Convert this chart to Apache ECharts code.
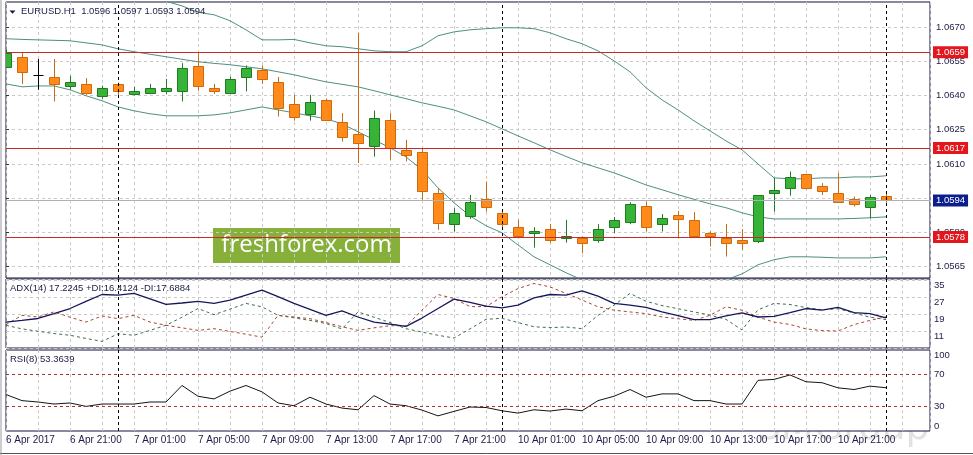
<!DOCTYPE html>
<html><head><meta charset="utf-8">
<script src="https://cdn.jsdelivr.net/npm/echarts@6/dist/echarts.min.js"></script>
<style>html,body{margin:0;padding:0;background:#fff}#c{width:973px;height:455px}</style>
</head><body><div id="c"></div>
<script>
// ---- data (H1 candles, index 0 = 6 Apr 17:00) ----
const timeLabels = ['6 Apr 2017','6 Apr 21:00','7 Apr 01:00','7 Apr 05:00','7 Apr 09:00','7 Apr 13:00','7 Apr 17:00','7 Apr 21:00','10 Apr 01:00','10 Apr 05:00','10 Apr 09:00','10 Apr 13:00','10 Apr 17:00','10 Apr 21:00'];
const opens  = [1.06527,1.06568,1.06491,1.06481,1.06441,1.06451,1.06400,1.06451,1.06407,1.06411,1.06419,1.06422,1.06530,1.06432,1.06411,1.06481,1.06513,1.06460,1.06364,1.06320,1.06381,1.06283,1.06232,1.06179,1.06293,1.06162,1.06152,1.05972,1.05836,1.05874,1.05946,1.05884,1.05823,1.05796,1.05814,1.05775,1.05775,1.05767,1.05823,1.05845,1.05916,1.05836,1.05877,1.05855,1.05796,1.05777,1.05767,1.05764,1.05972,1.05994,1.06057,1.06004,1.05972,1.05946,1.05913,1.05960];
const highs  = [1.06600,1.06586,1.06560,1.06560,1.06486,1.06476,1.06443,1.06457,1.06437,1.06451,1.06473,1.06542,1.06586,1.06451,1.06483,1.06532,1.06532,1.06481,1.06403,1.06403,1.06385,1.06323,1.06674,1.06334,1.06323,1.06206,1.06169,1.05994,1.05906,1.05964,1.06023,1.05889,1.05855,1.05823,1.05837,1.05855,1.05782,1.05836,1.05867,1.05932,1.05935,1.05880,1.05894,1.05889,1.05804,1.05837,1.05814,1.05964,1.06038,1.06067,1.06057,1.06016,1.06060,1.05957,1.05964,1.05970];
const lows   = [1.06520,1.06451,1.06425,1.06374,1.06425,1.06403,1.06386,1.06396,1.06400,1.06406,1.06407,1.06374,1.06421,1.06407,1.06407,1.06418,1.06451,1.06308,1.06290,1.06290,1.06290,1.06198,1.06104,1.06132,1.06118,1.06111,1.05943,1.05811,1.05804,1.05859,1.05891,1.05823,1.05775,1.05733,1.05755,1.05755,1.05709,1.05755,1.05796,1.05836,1.05804,1.05804,1.05775,1.05775,1.05738,1.05694,1.05723,1.05753,1.05891,1.05961,1.05989,1.05964,1.05932,1.05913,1.05862,1.05930];
const closes = [1.06586,1.06501,1.06491,1.06450,1.06460,1.06411,1.06435,1.06418,1.06422,1.06434,1.06434,1.06520,1.06443,1.06418,1.06473,1.06520,1.06472,1.06347,1.06308,1.06371,1.06293,1.06220,1.06191,1.06301,1.06172,1.06140,1.05983,1.05843,1.05884,1.05932,1.05913,1.05836,1.05782,1.05807,1.05767,1.05783,1.05755,1.05814,1.05855,1.05925,1.05823,1.05862,1.05859,1.05782,1.05782,1.05755,1.05755,1.05964,1.05986,1.06042,1.05994,1.05983,1.05932,1.05924,1.05954,1.05940];
const bbUpper  = [1.0686,1.0687,1.0688,1.0689,1.0689,1.0689,1.0689,1.0688,1.0687,1.0685,1.06813,1.06793,1.06765,1.06754,1.06728,1.06688,1.06644,1.06644,1.06646,1.06631,1.06618,1.06614,1.06605,1.06596,1.06592,1.06592,1.06618,1.06662,1.06679,1.06688,1.06693,1.06697,1.06697,1.06693,1.06675,1.06649,1.06627,1.06596,1.06552,1.06504,1.06434,1.06381,1.06337,1.06289,1.06245,1.06201,1.06162,1.06100,1.06039,1.06035,1.06035,1.06039,1.06039,1.06043,1.06043,1.06048];
const bbMiddle = [1.06649,1.06646,1.06644,1.06642,1.06640,1.06631,1.06622,1.06605,1.06592,1.06581,1.06570,1.06559,1.06548,1.06541,1.06535,1.06526,1.06517,1.06504,1.06491,1.06475,1.06460,1.06449,1.06438,1.06421,1.06403,1.06386,1.06368,1.06353,1.06337,1.06311,1.06285,1.06254,1.06223,1.06193,1.06162,1.06133,1.06105,1.06083,1.06061,1.06035,1.06008,1.05987,1.05965,1.05945,1.05925,1.05908,1.05886,1.05868,1.05859,1.05859,1.05859,1.05859,1.05859,1.05861,1.05864,1.05868];
const bbLower  = [1.06451,1.06438,1.06442,1.06442,1.06425,1.06399,1.06377,1.06350,1.06333,1.06320,1.06311,1.06311,1.06311,1.06315,1.06324,1.06337,1.06350,1.06337,1.06324,1.06311,1.06298,1.06276,1.06241,1.06206,1.06171,1.06131,1.06074,1.05995,1.05930,1.05872,1.05829,1.05798,1.05745,1.05693,1.05658,1.05623,1.05592,1.05575,1.05562,1.05553,1.05548,1.05548,1.05553,1.05562,1.05575,1.05592,1.05618,1.05658,1.05680,1.05693,1.05693,1.05691,1.05688,1.05688,1.05688,1.05693];
const adx     = [15.2,16.0,16.9,19.2,21.6,25.0,28.2,27.9,28.7,26.1,23.5,24.2,25.0,24.0,25.5,27.9,30.3,27.2,24.0,21.2,18.4,20.5,17.6,15.2,14.2,13.2,17.1,21.6,26.0,24.5,22.7,21.9,23.2,26.6,28.2,27.9,29.9,27.4,24.0,23.2,22.1,20.0,18.2,16.4,16.4,18.1,19.5,17.6,17.9,19.7,21.6,20.8,22.1,19.7,19.2,17.2];
const plusDI  = [13.7,12.0,10.9,9.8,9.0,7.5,6.1,9.7,9.0,11.3,13.7,17.5,21.6,18.7,21.3,24.0,22.4,18.4,17.2,16.0,14.5,12.0,20.0,17.5,15.0,12.1,10.5,9.0,7.7,12.0,16.5,17.0,15.0,13.0,12.6,12.9,12.1,18.4,23.2,28.7,25.0,23.0,21.5,20.0,18.5,16.5,11.5,21.0,24.0,23.5,22.0,21.0,21.5,19.5,17.5,16.4];
const minusDI = [14.0,18.4,17.6,20.0,17.5,15.2,18.1,16.8,18.4,15.2,13.7,12.5,11.3,12.1,10.8,9.5,8.1,18.4,17.6,16.8,15.0,13.0,11.3,12.5,13.5,13.4,20.8,28.2,26.3,22.5,22.5,27.1,31.0,33.4,31.8,28.7,25.6,22.4,20.8,20.0,19.2,17.6,16.8,16.0,18.4,22.4,20.8,17.6,15.2,14.1,12.0,11.2,11.0,14.0,16.0,17.7];
const rsi     = [45.0,37.5,35.8,33.3,34.6,30.4,33.3,33.3,33.3,35.8,35.8,56.2,42.9,39.6,49.2,56.2,48.3,34.6,31.2,41.7,33.3,28.3,26.2,43.7,33.3,31.2,25.8,18.7,24.2,29.6,29.0,25.0,22.1,26.2,24.6,27.1,25.0,37.5,42.9,51.2,41.7,45.8,45.8,37.5,37.5,33.3,33.3,62.5,63.7,69.2,60.8,59.6,53.3,51.2,55.4,53.4];
const priceTicks = [1.0565,1.0580,1.0595,1.0610,1.0625,1.0640,1.0655,1.0670];
const levels = [1.0659,1.0617,1.0578];
const bidPrice = 1.0594;
const daySeparators = [7,31,55];
const rsiTicks = [0,30,70,100];
const rsiLevels = [30,70];
const headerMain = 'EURUSD.H1  1.0596 1.0597 1.0593 1.0594';
const headerAdx = 'ADX(14) 17.2245 +DI:16.4124 -DI:17.6884';
const headerRsi = 'RSI(8) 53.3639';

// ---- styling ----
const FONT = 'Liberation Sans';
const TXT = '#1c1c44';
const GRIDC = '#c9c9c9';
const BORDER = '#14143c';
const BULL = '#37b437', BULL_EDGE = '#1f7a22';
const BEAR = '#ff8a1a', BEAR_EDGE = '#cc6a10';
const BAND = '#4f8f80';

const candleData = opens.map((o, i) => [i, o, closes[i], lows[i], highs[i]]);
const idx = a => a.map((v, i) => [i, v]);

function renderCandle(params, api) {
  const i = api.value(0), o = api.value(1), c = api.value(2), l = api.value(3), h = api.value(4);
  const pO = api.coord([i, o]), pC = api.coord([i, c]), pL = api.coord([i, l]), pH = api.coord([i, h]);
  const w = Math.round(api.size([1, 0])[0] * 0.62);
  const x = Math.round(pO[0]) + 0.5;
  let fill, stroke;
  if (c > o) { fill = BULL; stroke = BULL_EDGE; }
  else if (c < o) { fill = BEAR; stroke = BEAR_EDGE; }
  else { fill = '#000'; stroke = '#000'; }
  const top = Math.round(Math.min(pO[1], pC[1])) + 0.5, bot = Math.round(Math.max(pO[1], pC[1])) + 0.5;
  const ch = [{ type: 'line', shape: { x1: x, y1: pH[1], x2: x, y2: pL[1] }, style: { stroke: stroke, lineWidth: 1 } }];
  if (c === o) ch.push({ type: 'line', shape: { x1: x - w / 2, y1: top, x2: x + w / 2, y2: top }, style: { stroke: '#000', lineWidth: 1 } });
  else ch.push({ type: 'rect', shape: { x: x - w / 2, y: top, width: w, height: Math.max(bot - top, 1) }, style: { fill: fill, stroke: stroke, lineWidth: 1 } });
  return { type: 'group', children: ch };
}

const grids = [
  { left: 6, right: 43, top: 2, height: 276 },
  { left: 6, right: 43, top: 279, height: 69 },
  { left: 6, right: 43, top: 350, height: 81 }
].map(g => Object.assign(g, { show: true, borderColor: BORDER, borderWidth: 1, backgroundColor: '#fff', containLabel: false, outerBoundsMode: 'none' }));

const xAxes = [0, 1, 2].map(k => ({
  type: 'value', gridIndex: k, min: 0, max: 57.75, interval: 2,
  axisLine: { show: false }, axisTick: { show: false },
  splitLine: { show: true, lineStyle: { color: GRIDC, type: [3, 3], width: 1 } },
  axisLabel: {
    show: k === 2, align: 'left', margin: 4, color: TXT, fontFamily: FONT, fontSize: 10, showMinLabel: true, showMaxLabel: false,
    formatter: v => (v % 4 === 0 && v / 4 < timeLabels.length) ? timeLabels[v / 4] : ''
  }
}));

const yAxes = [
  { type: 'value', gridIndex: 0, position: 'right', min: 1.0560, max: 1.0681,
    axisLine: { show: false },
    axisTick: { show: true, length: 3, customValues: priceTicks, lineStyle: { color: '#333' } },
    axisLabel: { customValues: priceTicks, margin: 6, color: TXT, fontFamily: FONT, fontSize: 9.5, formatter: v => v.toFixed(4) },
    splitLine: { show: true, lineStyle: { color: GRIDC, type: [3, 3] } } },
  { type: 'value', gridIndex: 1, position: 'right', min: 3, max: 35.5, interval: 8,
    axisLine: { show: false }, axisTick: { show: false },
    axisLabel: { margin: 4, color: TXT, fontFamily: FONT, fontSize: 9.5, verticalAlign: 'top', showMinLabel: false, showMaxLabel: false, formatter: v => String(v) },
    splitLine: { show: true, lineStyle: { color: GRIDC, type: [3, 3] } } },
  { type: 'value', gridIndex: 2, position: 'right', min: 0, max: 100,
    axisLine: { show: false }, axisTick: { show: false },
    axisLabel: { customValues: rsiTicks, margin: 4, color: TXT, fontFamily: FONT, fontSize: 9.5, verticalAlignMinLabel: 'bottom', verticalAlignMaxLabel: 'top', formatter: v => String(v) },
    splitLine: { show: false } }
];

const sepLine = k => ({
  symbol: ['none', 'none'], silent: true, animation: false, label: { show: false },
  lineStyle: { color: '#000', type: [3, 3], width: 1 },
  data: daySeparators.map(v => ({ xAxis: v }))
});

const levelLabel = (bg) => ({ show: true, position: 'end', distance: 3, backgroundColor: bg, color: '#fff', padding: [1, 3, 0, 3], fontFamily: FONT, fontSize: 9.5, lineHeight: 11, formatter: p => Number(p.value).toFixed(4) });

const levelMarks = {
  symbol: ['none', 'none'], silent: true, animation: false, precision: 6,
  data: [{ yAxis: bidPrice, lineStyle: { color: '#b0b0b6', type: 'solid', width: 1 }, label: levelLabel('#0c1e8c') }]
    .concat(levels.map(v => ({ yAxis: v, lineStyle: { color: '#c62a2a', type: 'solid', width: 1 }, label: levelLabel('#e3161c') })))
};

const series = [
  { type: 'line', xAxisIndex: 0, yAxisIndex: 0, data: idx(bbUpper), showSymbol: false, lineStyle: { color: BAND, width: 1 }, z: 2, markLine: levelMarks },
  { type: 'line', xAxisIndex: 0, yAxisIndex: 0, data: idx(bbMiddle), showSymbol: false, lineStyle: { color: BAND, width: 1 }, z: 2 },
  { type: 'line', xAxisIndex: 0, yAxisIndex: 0, data: idx(bbLower), showSymbol: false, lineStyle: { color: BAND, width: 1 }, z: 2 },
  { type: 'custom', xAxisIndex: 0, yAxisIndex: 0, data: candleData, renderItem: renderCandle, clip: true, z: 3,
    encode: { x: 0, y: [1, 2, 3, 4] }, markLine: sepLine(0) },
  { type: 'line', xAxisIndex: 1, yAxisIndex: 1, data: idx(plusDI), showSymbol: false, lineStyle: { color: '#3f6f46', width: 1, type: [3, 3] }, z: 2 },
  { type: 'line', xAxisIndex: 1, yAxisIndex: 1, data: idx(minusDI), showSymbol: false, lineStyle: { color: '#a8462e', width: 1, type: [3, 3] }, z: 2 },
  { type: 'line', xAxisIndex: 1, yAxisIndex: 1, data: idx(adx), showSymbol: false, lineStyle: { color: '#16165c', width: 1.3 }, z: 3, markLine: sepLine(1) },
  { type: 'line', xAxisIndex: 2, yAxisIndex: 2, data: idx(rsi), showSymbol: false, lineStyle: { color: '#141414', width: 1 }, z: 3,
    markLine: { symbol: ['none', 'none'], silent: true, animation: false, label: { show: false },
      data: rsiLevels.map(v => ({ yAxis: v, lineStyle: { color: '#a83232', type: [3, 3], width: 1 } }))
        .concat(daySeparators.map(v => ({ xAxis: v, lineStyle: { color: '#000', type: [3, 3], width: 1 } }))) } }
];

const graphic = [
  { type: 'text', left: 757, top: 410, z: -1, silent: true, style: { text: 'SMGroup', fill: '#e2e2e2', font: '38px "DejaVu Sans"' } },
  { type: 'polygon', z: 50, shape: { points: [[9.5, 10.5], [15.5, 10.5], [12.5, 13.8]] }, style: { fill: '#1a1a40' } },
  { type: 'text', left: 21, top: 6, z: 50, style: { text: headerMain, fill: TXT, font: '9.5px "Liberation Sans"' } },
  { type: 'text', left: 10, top: 283, z: 50, style: { text: headerAdx, fill: TXT, font: '9.5px "Liberation Sans"' } },
  { type: 'text', left: 10, top: 354, z: 50, style: { text: headerRsi, fill: TXT, font: '9.5px "Liberation Sans"' } },
  { type: 'group', left: 213, top: 228, z: 100, children: [
    { type: 'rect', shape: { x: 0, y: 0, width: 187, height: 35 }, style: { fill: '#86b03a' } },
    { type: 'text', x: 93.5, y: 17.5, style: { text: 'freshforex.com', fill: '#fff', font: '24px "Open Sans"', textAlign: 'center', textVerticalAlign: 'middle' } }
  ] },
  { type: 'line', z: 50, shape: { x1: 0, y1: 453.5, x2: 973, y2: 453.5 }, style: { stroke: '#50505a', lineWidth: 1 } },
  { type: 'line', z: 50, shape: { x1: 1, y1: 0, x2: 1, y2: 455 }, style: { stroke: '#9a9aa0', lineWidth: 1 } }
];

const chart = echarts.init(document.getElementById('c'), null, { renderer: 'canvas' });
chart.setOption({
  animation: false,
  backgroundColor: '#fff',
  textStyle: { fontFamily: FONT },
  grid: grids, xAxis: xAxes, yAxis: yAxes, series: series, graphic: graphic
});
</script>
</body></html>
